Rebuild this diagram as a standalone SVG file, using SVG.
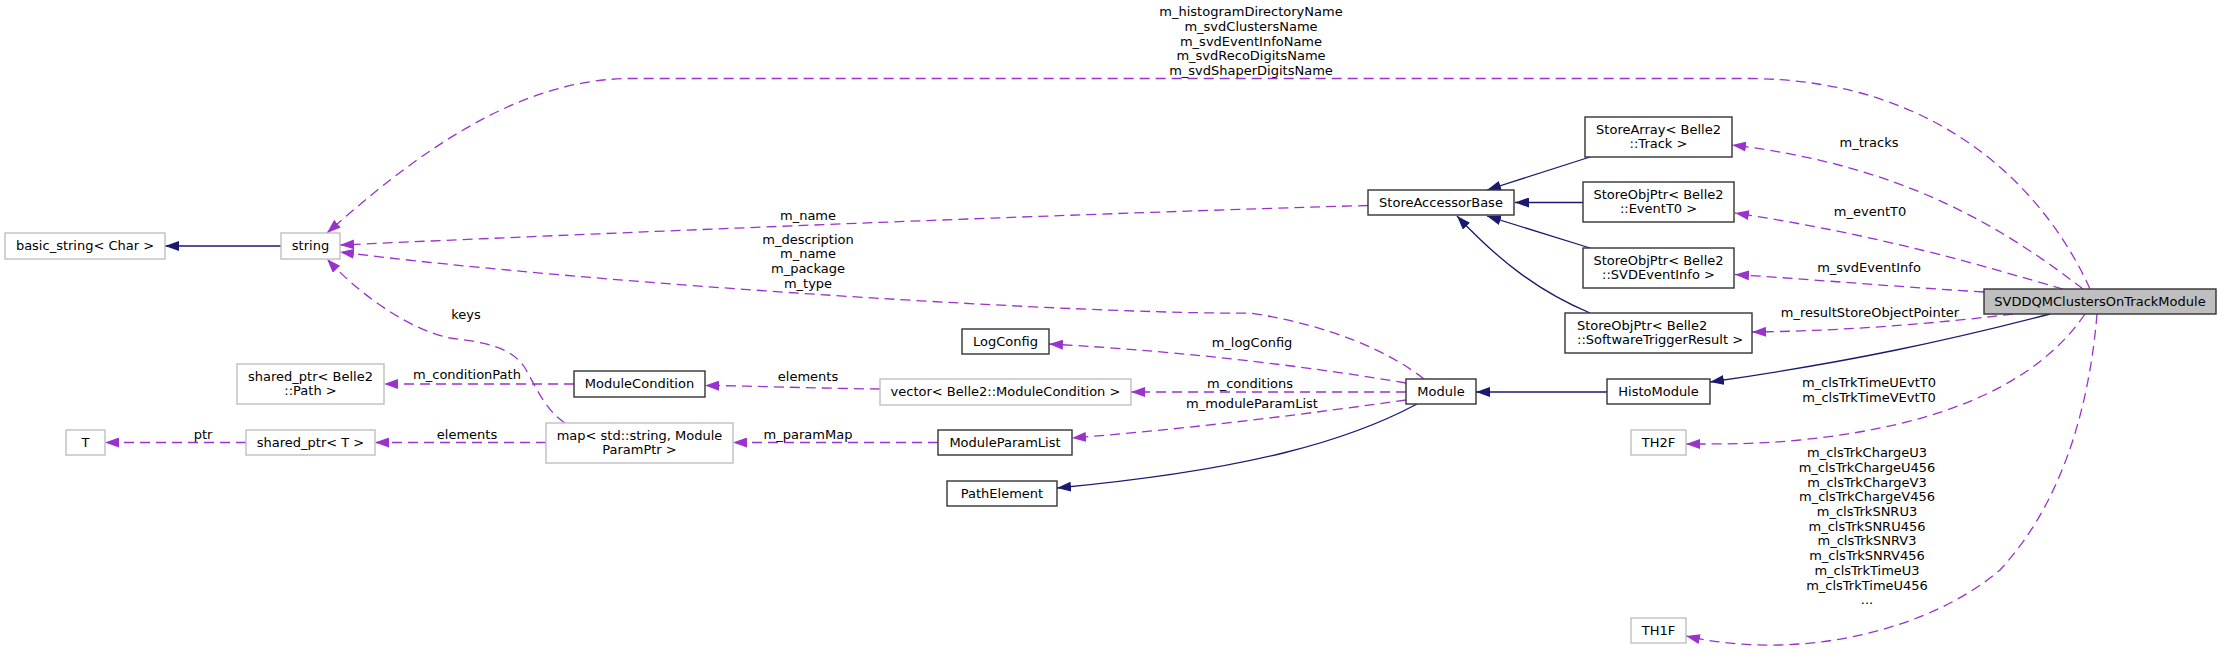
<svg xmlns="http://www.w3.org/2000/svg" width="2221" height="655" viewBox="0 0 2221 655">
<style>
text{font-family:"DejaVu Sans","Liberation Sans",sans-serif;font-size:13px;fill:#000}
.c{text-anchor:middle}
.n rect{fill:#fff;stroke:#333;stroke-width:1.4}
.g rect{fill:#fff;stroke:#bfbfbf;stroke-width:1.4}
.main rect{fill:#bfbfbf;stroke:#333;stroke-width:1.4}
.u{fill:none;stroke:#9a32cd;stroke-width:1.3;stroke-dasharray:10,6;marker-end:url(#ap)}
.i{fill:none;stroke:#191970;stroke-width:1.3;marker-end:url(#ab)}
</style>
<defs>
<marker id="ap" markerUnits="userSpaceOnUse" viewBox="0 0 14 10" refX="14" refY="5" markerWidth="14" markerHeight="10" orient="auto"><path d="M0,0 L14,5 L0,10 z" fill="#9a32cd"/></marker>
<marker id="ab" markerUnits="userSpaceOnUse" viewBox="0 0 14 10" refX="14" refY="5" markerWidth="14" markerHeight="10" orient="auto"><path d="M0,0 L14,5 L0,10 z" fill="#191970"/></marker>
</defs>
<g id="edges">
<path class="i" d="M281,246 L165,246"/>
<path class="u" d="M1368,205.5 C1100,213 700,229 340,245"/>
<path class="u" d="M1424,379 C1390,352 1330,325 1250,313 C1100,315 600,285 340,252"/>
<path class="u" d="M2090,289 C2050,200 1950,80 1750,78.5 L630,78.5 C520,79 420,150 327,233"/>
<path class="u" d="M2083,289 C2000,225 1900,165 1732,145"/>
<path class="u" d="M2063,289 C1980,265 1880,235 1735,213"/>
<path class="u" d="M1984,292 C1900,287 1820,280 1735,274.5"/>
<path class="u" d="M2013,314 C1950,322 1850,331 1752,332"/>
<path class="i" d="M2050,314 C1950,340 1850,362 1710,382"/>
<path class="u" d="M2085,314 C2040,380 1950,425 1800,440 C1760,444 1730,444 1686,444"/>
<path class="u" d="M2097,314 C2090,400 2065,500 2000,570 C1930,630 1800,662 1686,636"/>
<path class="u" d="M1406,383 C1330,370 1200,352 1049,344"/>
<path class="u" d="M1406,392 L1131,392"/>
<path class="u" d="M1406,400 C1320,412 1200,428 1072,438"/>
<path class="i" d="M1417,404 C1350,440 1250,470 1057,488"/>
<path class="i" d="M1607,392 L1476,392"/>
<path class="i" d="M1590,157 L1487,190"/>
<path class="i" d="M1583,202.5 L1515,202.5"/>
<path class="i" d="M1590,248 L1487,216"/>
<path class="i" d="M1590,313 C1540,292 1500,262 1457,216"/>
<path class="u" d="M880,389 C800,388 760,386 705,385.5"/>
<path class="u" d="M938,442.5 L733,442.5"/>
<path class="u" d="M574,384 L384,384"/>
<path class="u" d="M546,442.5 L375,442.5"/>
<path class="u" d="M246,442.5 L105,442.5"/>
<path class="u" d="M565,423 C545,410 535,385 525,368 C510,345 480,342 450,338 C410,330 360,295 327,259"/>
<g class="c">
<text x="1251" y="16">m_histogramDirectoryName</text>
<text x="1251" y="30.75">m_svdClustersName</text>
<text x="1251" y="45.5">m_svdEventInfoName</text>
<text x="1251" y="60.25">m_svdRecoDigitsName</text>
<text x="1251" y="75">m_svdShaperDigitsName</text>
<text x="1869" y="147">m_tracks</text>
<text x="1870" y="216">m_eventT0</text>
<text x="1869" y="272">m_svdEventInfo</text>
<text x="1870" y="317">m_resultStoreObjectPointer</text>
<text x="1869" y="387">m_clsTrkTimeUEvtT0</text>
<text x="1869" y="401.7">m_clsTrkTimeVEvtT0</text>
<text x="1867" y="457">m_clsTrkChargeU3</text>
<text x="1867" y="471.7">m_clsTrkChargeU456</text>
<text x="1867" y="486.5">m_clsTrkChargeV3</text>
<text x="1867" y="501.2">m_clsTrkChargeV456</text>
<text x="1867" y="515.9">m_clsTrkSNRU3</text>
<text x="1867" y="530.7">m_clsTrkSNRU456</text>
<text x="1867" y="545.4">m_clsTrkSNRV3</text>
<text x="1867" y="560.1">m_clsTrkSNRV456</text>
<text x="1867" y="574.8">m_clsTrkTimeU3</text>
<text x="1867" y="589.6">m_clsTrkTimeU456</text>
<text x="1867" y="604.3">...</text>
<text x="808" y="220">m_name</text>
<text x="808" y="243.5">m_description</text>
<text x="808" y="258.2">m_name</text>
<text x="808" y="273">m_package</text>
<text x="808" y="287.7">m_type</text>
<text x="1252" y="347">m_logConfig</text>
<text x="1250" y="388">m_conditions</text>
<text x="1252" y="408">m_moduleParamList</text>
<text x="808" y="381">elements</text>
<text x="808" y="439">m_paramMap</text>
<text x="467" y="379">m_conditionPath</text>
<text x="467" y="438.5">elements</text>
<text x="203" y="438.5">ptr</text>
<text x="466" y="318.5">keys</text>
</g>
</g>
<g id="basic_string" class="g"><rect x="5" y="233" width="160" height="26"/><text class="c" x="85" y="250">basic_string&lt; Char &gt;</text></g>
<g id="string" class="g"><rect x="281" y="233" width="59" height="26"/><text class="c" x="310.5" y="250">string</text></g>
<g id="shared_ptr_path" class="g"><rect x="237" y="364" width="147" height="40"/><text class="c" x="310.5" y="380.5">shared_ptr&lt; Belle2</text><text class="c" x="310.5" y="395.3">::Path &gt;</text></g>
<g id="T" class="g"><rect x="66" y="430" width="39" height="25"/><text class="c" x="85.5" y="447">T</text></g>
<g id="shared_ptr_T" class="g"><rect x="246" y="430" width="129" height="25"/><text class="c" x="310.5" y="447">shared_ptr&lt; T &gt;</text></g>
<g id="ModuleCondition" class="n"><rect x="574" y="371" width="131" height="26"/><text class="c" x="639.5" y="388">ModuleCondition</text></g>
<g id="vector" class="g"><rect x="880" y="379" width="251" height="26"/><text class="c" x="1005.5" y="396">vector&lt; Belle2::ModuleCondition &gt;</text></g>
<g id="map" class="g"><rect x="546" y="423" width="187" height="40"/><text class="c" x="639.5" y="439.5">map&lt; std::string, Module</text><text class="c" x="639.5" y="454.3">ParamPtr &gt;</text></g>
<g id="ModuleParamList" class="n"><rect x="938" y="430" width="134" height="25"/><text class="c" x="1005" y="447">ModuleParamList</text></g>
<g id="PathElement" class="n"><rect x="947" y="481" width="110" height="25"/><text class="c" x="1002" y="498">PathElement</text></g>
<g id="LogConfig" class="n"><rect x="962" y="329" width="87" height="25"/><text class="c" x="1005.5" y="346">LogConfig</text></g>
<g id="Module" class="n"><rect x="1406" y="379" width="70" height="25"/><text class="c" x="1441" y="396">Module</text></g>
<g id="StoreAccessorBase" class="n"><rect x="1368" y="190" width="146" height="25"/><text class="c" x="1441" y="207">StoreAccessorBase</text></g>
<g id="StoreArrayTrack" class="n"><rect x="1585" y="117" width="147" height="40"/><text class="c" x="1658.5" y="133.5">StoreArray&lt; Belle2</text><text class="c" x="1658.5" y="148.3">::Track &gt;</text></g>
<g id="StoreObjPtrEventT0" class="n"><rect x="1583" y="182" width="151" height="40"/><text class="c" x="1658.5" y="198.5">StoreObjPtr&lt; Belle2</text><text class="c" x="1658.5" y="213.3">::EventT0 &gt;</text></g>
<g id="StoreObjPtrSVDEventInfo" class="n"><rect x="1583" y="248" width="151" height="40"/><text class="c" x="1658.5" y="264.5">StoreObjPtr&lt; Belle2</text><text class="c" x="1658.5" y="279.3">::SVDEventInfo &gt;</text></g>
<g id="StoreObjPtrSWTrigger" class="n"><rect x="1565" y="313" width="187" height="40"/><text x="1577" y="329.5">StoreObjPtr&lt; Belle2</text><text x="1577" y="344.3">::SoftwareTriggerResult &gt;</text></g>
<g id="HistoModule" class="n"><rect x="1607" y="379" width="103" height="25"/><text class="c" x="1658.5" y="396">HistoModule</text></g>
<g id="SVDDQMClustersOnTrackModule" class="main"><rect x="1984" y="289" width="232" height="25"/><text class="c" x="2100" y="306">SVDDQMClustersOnTrackModule</text></g>
<g id="TH2F" class="g"><rect x="1631" y="430" width="55" height="25"/><text class="c" x="1658.5" y="447">TH2F</text></g>
<g id="TH1F" class="g"><rect x="1631" y="618" width="55" height="25"/><text class="c" x="1658.5" y="635">TH1F</text></g>
</svg>
